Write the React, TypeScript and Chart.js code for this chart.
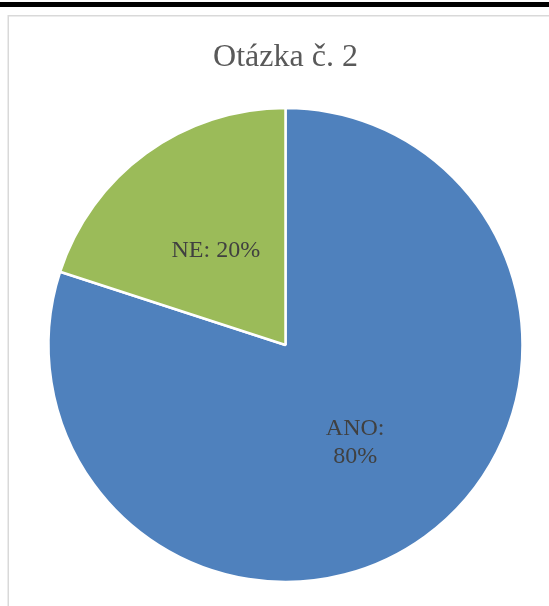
import React, { useEffect, useRef } from "react";
import { Chart, registerables } from "chart.js";

Chart.register(...registerables);

const titleText = "Otázka č. 2";
const categories = ["ANO", "NE"];
const values = [80, 20];
const labelLines = [["ANO:", "80%"], ["NE: 20%"]];
const colors = ["#4f81bd", "#9bbb59"];

const framePlugin = {
  id: "frame",
  beforeDraw(chart: any) {
    const ctx = chart.ctx;
    const w = chart.width;
    const h = chart.height;
    ctx.save();
    ctx.fillStyle = "#ffffff";
    ctx.fillRect(0, 0, w, h);
    ctx.fillStyle = "#000000";
    ctx.fillRect(0, 2, w, 5);
    ctx.strokeStyle = "#d9d9d9";
    ctx.lineWidth = 1.5;
    ctx.beginPath();
    ctx.moveTo(8.25, h);
    ctx.lineTo(8.25, 15.75);
    ctx.lineTo(w, 15.75);
    ctx.stroke();
    ctx.restore();
  },
  afterDraw(chart: any) {
    const ctx = chart.ctx;
    ctx.save();
    ctx.fillStyle = "#595959";
    ctx.font = '32px "Liberation Serif", "Times New Roman", serif';
    ctx.textAlign = "center";
    ctx.textBaseline = "alphabetic";
    ctx.fillText(titleText, 285.5, 66);

    const meta = chart.getDatasetMeta(0);
    ctx.fillStyle = "#404040";
    ctx.font = '24px "Liberation Serif", "Times New Roman", serif';
    ctx.textBaseline = "middle";
    meta.data.forEach((arc: any, i: number) => {
      const p = arc.tooltipPosition(true);
      const lines = labelLines[i];
      const lh = 28;
      const startY = p.y - ((lines.length - 1) * lh) / 2 + 2;
      lines.forEach((ln: string, j: number) => {
        ctx.fillText(ln, p.x, startY + j * lh);
      });
    });
    ctx.restore();
  },
};

export default function App() {
  const ref = useRef<HTMLCanvasElement>(null);
  useEffect(() => {
    if (!ref.current) return;
    const chart = new Chart(ref.current, {
      type: "pie",
      data: {
        labels: categories,
        datasets: [
          {
            data: values,
            backgroundColor: colors,
            borderColor: "#ffffff",
            borderWidth: 2.5,
            hoverOffset: 0,
          },
        ],
      },
      options: {
        responsive: false,
        animation: false,
        radius: 237,
        layout: { padding: { left: 22, right: 0, top: 101, bottom: 17 } },
        plugins: {
          legend: { display: false },
          title: { display: false },
          tooltip: { enabled: false },
        },
      } as any,
      plugins: [framePlugin],
    });
    return () => chart.destroy();
  }, []);
  return (
    <div style={{ position: "absolute", left: 0, top: 0, width: 549, height: 606 }}>
      <canvas ref={ref} width={549} height={606} style={{ display: "block" }} />
    </div>
  );
}
